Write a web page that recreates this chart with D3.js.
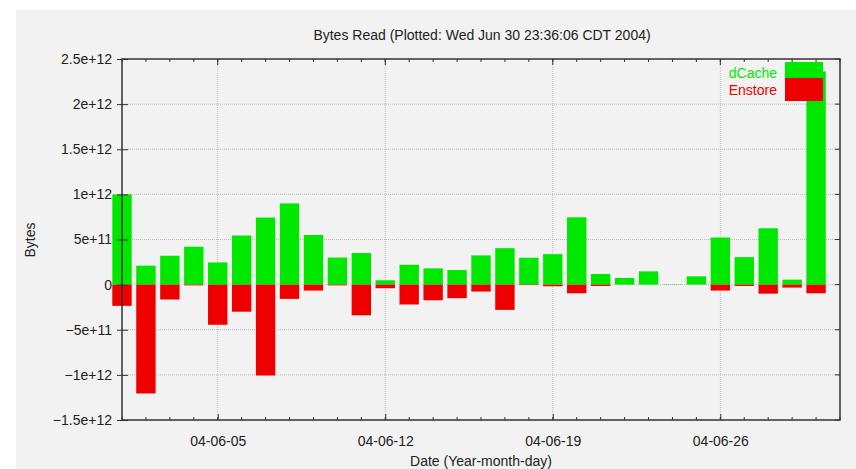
<!DOCTYPE html>
<html>
<head>
<meta charset="utf-8">
<script src="https://cdn.jsdelivr.net/npm/d3@7"></script>
<style>
  body { margin: 0; background: #ffffff; }
  text { font-family: "Liberation Sans", Arial, sans-serif; fill: #222; }
</style>
</head>
<body>
<svg id="drawing_region"></svg>
<script>
// one bar pair per day, June 2004
const days = [
    "2004-06-01", "2004-06-02", "2004-06-03", "2004-06-04", "2004-06-05",
    "2004-06-06", "2004-06-07", "2004-06-08", "2004-06-09", "2004-06-10",
    "2004-06-11", "2004-06-12", "2004-06-13", "2004-06-14", "2004-06-15",
    "2004-06-16", "2004-06-17", "2004-06-18", "2004-06-19", "2004-06-20",
    "2004-06-21", "2004-06-22", "2004-06-23", "2004-06-24", "2004-06-25",
    "2004-06-26", "2004-06-27", "2004-06-28", "2004-06-29", "2004-06-30"
];
const dcache = [
    1.00e12, 0.21e12, 0.32e12, 0.42e12, 0.246e12,
    0.544e12, 0.743e12, 0.90e12, 0.55e12, 0.30e12,
    0.35e12, 0.048e12, 0.22e12, 0.18e12, 0.162e12,
    0.324e12, 0.404e12, 0.298e12, 0.338e12, 0.746e12,
    0.118e12, 0.074e12, 0.147e12, 0.003e12, 0.092e12,
    0.522e12, 0.305e12, 0.625e12, 0.055e12, 2.363e12
];
const enstore = [
    -0.235e12, -1.206e12, -0.165e12, -0.008e12, -0.445e12,
    -0.30e12, -1.007e12, -0.158e12, -0.066e12, -0.008e12,
    -0.34e12, -0.04e12, -0.22e12, -0.173e12, -0.15e12,
    -0.077e12, -0.28e12, -0.005e12, -0.018e12, -0.096e12,
    -0.015e12, 0, 0, 0, 0,
    -0.066e12, -0.015e12, -0.10e12, -0.033e12, -0.096e12
];
const series = ["dCache", "Enstore"];
const colors = ["#00e800", "#ee0000"];
const ytick_values = [-1.5e12, -1e12, -5e11, 0, 5e11, 1e12, 1.5e12, 2e12, 2.5e12];
const title = "Bytes Read (Plotted: Wed Jun 30 23:36:06 CDT 2004)";

const parse = d3.utcParse("%Y-%m-%d");

const config = {
    width: 856,
    height: 469,
    margin: {top: 59, right: 16, bottom: 49, left: 122}
};

const svg = d3.select('#drawing_region')
    .attr('width', config.width)
    .attr('height', config.height);

svg.append('rect')
    .attr('x', 16).attr('y', 10)
    .attr('width', config.width - 16).attr('height', config.height - 10)
    .attr('fill', '#f2f2f2');

const inner_width = config.width - config.margin.left - config.margin.right;
const inner_height = config.height - config.margin.top - config.margin.bottom;

const chart = svg.append('g')
    .attr('transform', `translate(${config.margin.left}, ${config.margin.top})`);

const xscale = d3.scaleUtc()
    .domain([parse("2004-06-01"), parse("2004-07-01")])
    .range([0, inner_width]);

const yscale = d3.scaleLinear()
    .domain([-1.5e12, 2.5e12])
    .range([inner_height, 0]);

const yfmt = d => d === 0 ? "0" : d3.format("~e")(d);

// grid
chart.append('g')
    .selectAll('line').data(ytick_values.slice(1, -1)).enter()
    .append('line')
    .attr('x1', 0).attr('x2', inner_width)
    .attr('y1', d => yscale(d)).attr('y2', d => yscale(d))
    .attr('stroke', '#bdbdbd').attr('stroke-dasharray', '1,1');

const weeks = xscale.ticks(d3.utcSaturday.every(1));
chart.append('g')
    .selectAll('line').data(weeks).enter()
    .append('line')
    .attr('x1', d => xscale(d)).attr('x2', d => xscale(d))
    .attr('y1', 0).attr('y2', inner_height)
    .attr('stroke', '#bdbdbd').attr('stroke-dasharray', '1,1');

// bars
const day_ms = 24 * 3600 * 1000;
const bw = xscale(new Date(day_ms * 0.81)) - xscale(new Date(0));

series.forEach((s, i) => {
    const vals = i === 0 ? dcache : enstore;
    chart.append('g')
        .selectAll('rect').data(days).enter()
        .append('rect')
        .attr('x', (d) => xscale(parse(d)) - bw / 2)
        .attr('y', (d, j) => yscale(Math.max(0, vals[j])))
        .attr('width', bw)
        .attr('height', (d, j) => Math.abs(yscale(vals[j]) - yscale(0)))
        .attr('fill', colors[i]);
});

// frame and axes
const xaxis_bottom = d3.axisBottom(xscale)
    .tickValues(weeks)
    .tickFormat(d3.utcFormat("%y-%m-%d"))
    .tickSize(-6).tickPadding(16);
const gx = chart.append('g')
    .attr('transform', `translate(0, ${inner_height})`)
    .call(xaxis_bottom);

const daily = xscale.ticks(d3.utcDay.every(1));
[0, inner_height].forEach(yy => {
    chart.append('g')
        .selectAll('line').data(daily).enter()
        .append('line')
        .attr('x1', d => xscale(d)).attr('x2', d => xscale(d))
        .attr('y1', yy).attr('y2', yy === 0 ? 3 : yy - 3)
        .attr('stroke', '#333');
});
chart.append('g')
    .selectAll('line').data(weeks).enter()
    .append('line')
    .attr('x1', d => xscale(d)).attr('x2', d => xscale(d))
    .attr('y1', 0).attr('y2', 6)
    .attr('stroke', '#333');

const yaxis = d3.axisLeft(yscale)
    .tickValues(ytick_values)
    .tickFormat(yfmt)
    .tickSize(5).tickPadding(5);
const gy = chart.append('g').call(yaxis);
gy.selectAll('.tick line').attr('x2', 6).attr('x1', -5);

chart.append('g')
    .selectAll('line').data(ytick_values).enter()
    .append('line')
    .attr('x1', inner_width - 5).attr('x2', inner_width)
    .attr('y1', d => yscale(d)).attr('y2', d => yscale(d))
    .attr('stroke', '#333');

[gx, gy].forEach(g => {
    g.select('.domain').remove();
    g.selectAll('.tick line').attr('stroke', '#333');
    g.selectAll('.tick text')
        .attr('font-family', '"Liberation Sans", Arial, sans-serif')
        .attr('font-size', 14).attr('fill', '#222');
});
gy.selectAll('.tick text').attr('x', -10);

chart.append('rect')
    .attr('width', inner_width).attr('height', inner_height)
    .attr('fill', 'none').attr('stroke', '#333').attr('stroke-width', 1.5);

// titles
svg.append('text')
    .attr('x', 482).attr('y', 40)
    .attr('text-anchor', 'middle').attr('font-size', 14)
    .text(title);

svg.append('text')
    .attr('x', 481).attr('y', 466)
    .attr('text-anchor', 'middle').attr('font-size', 14)
    .text("Date (Year-month-day)");

svg.append('text')
    .attr('transform', 'translate(35, 240) rotate(-90)')
    .attr('text-anchor', 'middle').attr('font-size', 14)
    .text("Bytes");

// legend
const legend = svg.append('g');
series.forEach((s, i) => {
    legend.append('rect')
        .attr('x', 785).attr('y', 62 + i * 16)
        .attr('width', 38).attr('height', i === 0 ? 22 : 23)
        .attr('fill', colors[i]);
    legend.append('text')
        .attr('x', 777).attr('y', 78 + i * 17)
        .attr('text-anchor', 'end').attr('font-size', 14)
        .style('fill', colors[i])
        .text(s);
});
</script>
</body>
</html>
